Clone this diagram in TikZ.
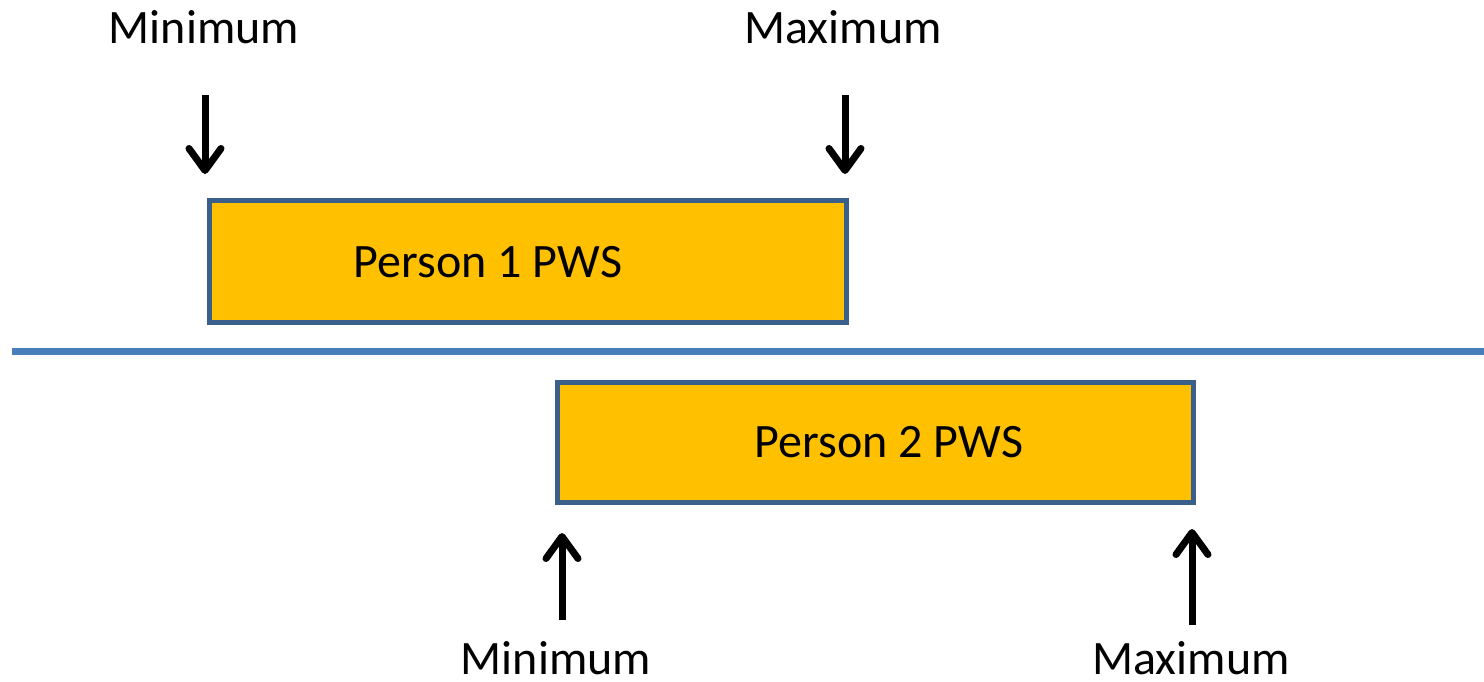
\documentclass[tikz,border=0pt]{standalone}
\usepackage{fontspec}
\setmainfont{Carlito}
\usetikzlibrary{arrows.meta}
\definecolor{boxfill}{HTML}{FFC000}
\definecolor{boxline}{HTML}{3A5F8B}
\definecolor{sepline}{HTML}{4A7EBB}
\tikzset{
  lbl/.style={anchor=base, inner sep=0pt, font=\fontsize{48}{57}\selectfont},
  pws/.style={draw=boxline, fill=boxfill, line width=5pt},
  marker/.style={line width=7pt, -{Straight Barb[round, length=22pt, width=32pt]}},
}
\begin{document}
\begin{tikzpicture}[x=1pt,y=-1pt]
\useasboundingbox (0,0) rectangle (1484,681);
% separator
\coordinate (sepL) at (12,351);
\coordinate (sepR) at (1484,351);
\draw[sepline, line width=7pt] (sepL) -- (sepR);
% boxes
\draw[pws] (209,200) rectangle (846,322);
\node[lbl] (p1) at (488,277) {Person 1 PWS};
\draw[pws] (557,382) rectangle (1193,502);
\node[lbl] (p2) at (889,457) {Person 2 PWS};
% top labels and arrows
\node[lbl] (min1) at (204,43) {Minimum};
\node[lbl] (max1) at (843,43) {Maximum};
\coordinate (a1s) at (205,95);
\coordinate (a1e) at (205,174);
\coordinate (a2s) at (845,95);
\coordinate (a2e) at (845,174);
\draw[marker] (a1s) -- (a1e);
\draw[marker] (a2s) -- (a2e);
% bottom labels and arrows
\node[lbl] (min2) at (556,674) {Minimum};
\node[lbl] (max2) at (1191,674) {Maximum};
\coordinate (b1s) at (562,620);
\coordinate (b1e) at (562,533);
\coordinate (b2s) at (1192,625);
\coordinate (b2e) at (1192,529);
\draw[marker] (b1s) -- (b1e);
\draw[marker] (b2s) -- (b2e);
\end{tikzpicture}
\end{document}
